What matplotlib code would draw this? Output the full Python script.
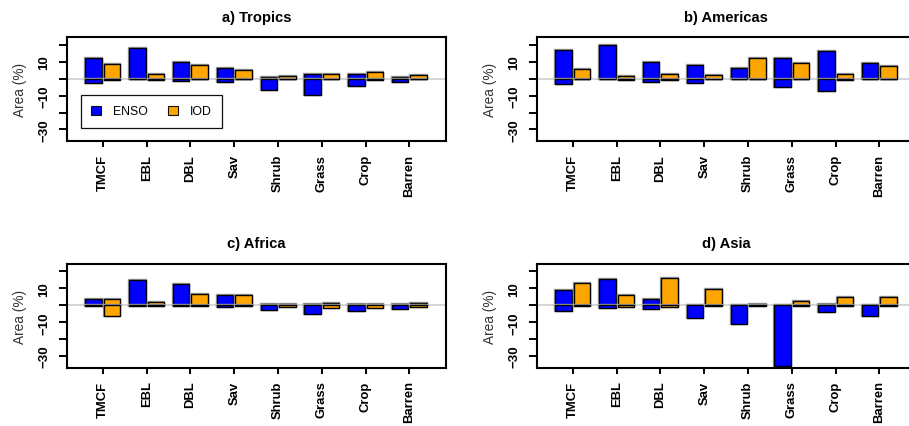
import matplotlib
matplotlib.use('Agg')
import matplotlib.pyplot as plt
import matplotlib.patheffects as pe
from matplotlib.patches import Patch
import numpy as np

plt.rcParams['font.family'] = ['Liberation Sans', 'DejaVu Sans']

categories = ['TMCF', 'EBL', 'DBL', 'Sav', 'Shrub', 'Grass', 'Crop', 'Barren']
series_names = ['ENSO', 'IOD']
series_colors = ['#0000FF', '#FFA500']
panel_titles = ['a) Tropics', 'b) Americas', 'c) Africa', 'd) Asia']
ytick_values = [20, 10, 0, -10, -20, -30]
ytick_labels = ['', '10', '', '\u221210', '', '\u221230']
y_label = 'Area (%)'

# a) Tropics
tropics_enso_pos = [12.2, 18.3, 9.9, 6.5, 1.0, 2.8, 3.0, 1.2]
tropics_enso_neg = [-2.5, -0.2, -1.2, -2.0, -6.5, -9.9, -4.1, -2.0]
tropics_iod_pos = [8.6, 2.6, 8.1, 4.9, 1.8, 2.8, 3.9, 2.0]
tropics_iod_neg = [-1.0, -1.0, -0.4, -0.2, -0.2, -0.4, -0.6, -0.4]

# b) Americas
americas_enso_pos = [17.0, 20.1, 9.9, 8.3, 6.3, 12.2, 16.4, 9.5]
americas_enso_neg = [-3.0, -0.2, -1.8, -2.6, -0.2, -4.9, -7.5, -0.2]
americas_iod_pos = [5.9, 1.6, 2.6, 2.2, 12.2, 9.3, 3.0, 7.5]
americas_iod_neg = [-0.3, -0.8, -0.8, -0.2, -0.1, -0.2, -0.6, -0.2]

# c) Africa
africa_enso_pos = [3.9, 14.8, 12.8, 6.1, 0.8, 1.0, 0.8, 0.8]
africa_enso_neg = [-0.6, -0.6, -0.6, -1.0, -3.0, -4.9, -3.2, -2.4]
africa_iod_pos = [3.6, 1.8, 6.5, 6.1, 1.0, 1.2, 1.0, 1.6]
africa_iod_neg = [-6.3, -0.6, -0.6, -0.6, -1.2, -1.4, -1.4, -1.0]

# d) Asia
asia_enso_pos = [9.1, 15.8, 3.9, 0.4, 0.2, 0.1, 0.8, 0.2]
asia_enso_neg = [-3.6, -1.6, -2.4, -7.5, -11.0, -36.1, -4.1, -6.5]
asia_iod_pos = [13.2, 6.1, 16.2, 9.7, 0.8, 2.8, 4.9, 4.9]
asia_iod_neg = [-0.4, -0.8, -0.8, -0.4, -0.4, -0.4, -0.6, -0.4]

panels = [
    (tropics_enso_pos, tropics_enso_neg, tropics_iod_pos, tropics_iod_neg),
    (americas_enso_pos, americas_enso_neg, americas_iod_pos, americas_iod_neg),
    (africa_enso_pos, africa_enso_neg, africa_iod_pos, africa_iod_neg),
    (asia_enso_pos, asia_enso_neg, asia_iod_pos, asia_iod_neg),
]

W, H = 909, 427
fig = plt.figure(figsize=(W / 100, H / 100), dpi=100)

ax_w = 379.3 / W
ax_h = 104.0 / H
lefts = [66.7 / W, 536.7 / W]
bottoms = [1 - 142.3 / H, 1 - 369.0 / H]
positions = [(lefts[0], bottoms[0]), (lefts[1], bottoms[0]),
             (lefts[0], bottoms[1]), (lefts[1], bottoms[1])]

bar_w = 0.377
off = 0.211
halo = [pe.Stroke(linewidth=1.7, foreground='#a0a0a0'), pe.Normal()]

x = np.arange(len(categories))
for i, (data, title, (l, b)) in enumerate(zip(panels, panel_titles, positions)):
    ax = fig.add_axes([l, b, ax_w, ax_h])
    enso_pos, enso_neg, iod_pos, iod_neg = data
    ax.axhline(0, color='#cfcfcf', lw=1.2, zorder=0.5)
    for xs, vals, col in [(x - off, enso_pos, series_colors[0]),
                          (x - off, enso_neg, series_colors[0]),
                          (x + off, iod_pos, series_colors[1]),
                          (x + off, iod_neg, series_colors[1])]:
        bars = ax.bar(xs, vals, width=bar_w, color=col, edgecolor='#000000',
                      linewidth=1.0, zorder=2)
        for p in bars:
            p.set_path_effects(halo)
    ax.set_xlim(-0.825, 7.835)
    ax.set_ylim(-37.0, 24.4)
    ax.set_yticks(ytick_values)
    ax.set_yticklabels(ytick_labels, rotation=90, va='center',
                       fontsize=9.5, fontweight='bold')
    ax.set_xticks(x)
    ax.set_xticklabels(categories, rotation=90, fontsize=9.4, fontweight='bold')
    ax.tick_params(axis='y', length=6, width=1.4, pad=6)
    ax.tick_params(axis='x', length=4, width=1.4, pad=5)
    for s in ax.spines.values():
        s.set_linewidth(1.5)
    ax.set_ylabel(y_label, fontsize=9.8, color='#333333', labelpad=8)
    ax.set_title(title, fontsize=10.6, fontweight='bold', pad=12)
    if i == 0:
        handles = [Patch(facecolor=series_colors[0], edgecolor='#111111', lw=0.8),
                   Patch(facecolor=series_colors[1], edgecolor='#111111', lw=0.8)]
        leg = ax.legend(handles, series_names, ncol=2, loc='upper left',
                        bbox_to_anchor=(0.0377, 0.445), borderaxespad=0,
                        fancybox=False, framealpha=1, edgecolor='#111111',
                        fontsize=8.8, handlelength=0.8, handleheight=0.75,
                        handletextpad=1.0, columnspacing=1.6, borderpad=0.85)
        leg.get_frame().set_linewidth(0.9)

fig.savefig('out.png', dpi=100)
